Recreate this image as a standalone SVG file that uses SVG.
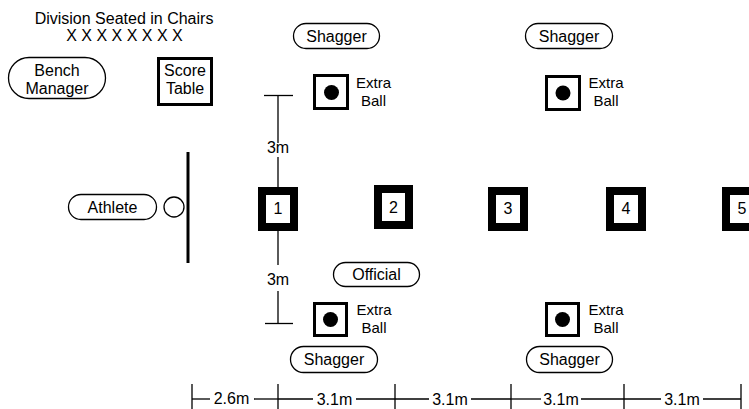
<svg xmlns="http://www.w3.org/2000/svg" width="749" height="409" viewBox="0 0 749 409">
<style>
text{font-family:"Liberation Sans",Arial,sans-serif;font-size:16px;fill:#000;text-anchor:middle}
.sm{font-size:15px}
.pill{fill:#fff;stroke:#000;stroke-width:1.3}
.cone{fill:#fff;stroke:#000;stroke-width:8}
.box{fill:#fff;stroke:#000;stroke-width:3}
.ln{stroke:#000;stroke-width:1.3;fill:none}
</style>
<rect width="749" height="409" fill="#fff"/>
<g id="division">
<text x="124" y="24">Division Seated in Chairs</text>
<text x="124.5" y="41">X X X X X X X X</text>
</g>
<g id="bench-manager">
<rect class="pill" x="8.5" y="57.5" width="97" height="41" rx="20.5"/>
<text x="57" y="76">Bench</text>
<text x="57" y="94">Manager</text>
</g>
<g id="score-table">
<rect class="box" x="158.5" y="58.5" width="53" height="46"/>
<text x="185" y="76">Score</text>
<text x="185" y="94">Table</text>
</g>
<g id="shagger-top-1">
<rect class="pill" x="293.5" y="23.5" width="86" height="25" rx="12.5"/>
<text x="336.5" y="42">Shagger</text>
</g>
<g id="shagger-top-2">
<rect class="pill" x="525.5" y="23.5" width="87" height="25" rx="12.5"/>
<text x="569" y="42">Shagger</text>
</g>
<g id="extra-ball-top-1">
<rect class="box" x="314.5" y="75.5" width="33" height="33"/>
<circle cx="331.5" cy="92.5" r="7.5"/>
<text class="sm" x="373.5" y="88">Extra</text>
<text class="sm" x="373.5" y="106">Ball</text>
</g>
<g id="extra-ball-top-2">
<rect class="box" x="546.5" y="76.5" width="33" height="33"/>
<circle cx="563" cy="93" r="7.5"/>
<text class="sm" x="606" y="88">Extra</text>
<text class="sm" x="606" y="106">Ball</text>
</g>
<g id="athlete">
<rect class="pill" x="68.5" y="194.5" width="88" height="25" rx="12.5"/>
<text x="112.5" y="213">Athlete</text>
<circle class="ln" cx="174" cy="207" r="10"/>
</g>
<g id="foul-line">
<line x1="188" y1="152" x2="188" y2="263" stroke="#000" stroke-width="3"/>
</g>
<g id="cone-1">
<rect class="cone" x="262" y="191" width="32" height="36"/>
<text x="278" y="214">1</text>
</g>
<g id="cone-2">
<rect class="cone" x="378" y="189" width="31" height="36"/>
<text x="393.5" y="213">2</text>
</g>
<g id="cone-3">
<rect class="cone" x="492" y="191" width="32" height="36"/>
<text x="508" y="214">3</text>
</g>
<g id="cone-4">
<rect class="cone" x="610" y="191" width="32" height="36"/>
<text x="626" y="214">4</text>
</g>
<g id="cone-5">
<rect class="cone" x="726" y="191" width="32" height="36"/>
<text x="742" y="214">5</text>
</g>
<g id="official">
<rect class="pill" x="333.5" y="262.5" width="86" height="24" rx="12"/>
<text x="376.5" y="280">Official</text>
</g>
<g id="extra-ball-bottom-1">
<rect class="box" x="314.5" y="303.5" width="32" height="32"/>
<circle cx="330.5" cy="319.5" r="7.5"/>
<text class="sm" x="374" y="315">Extra</text>
<text class="sm" x="374" y="333">Ball</text>
</g>
<g id="extra-ball-bottom-2">
<rect class="box" x="546.5" y="303.5" width="32" height="32"/>
<circle cx="562.5" cy="319.5" r="7.5"/>
<text class="sm" x="606" y="315">Extra</text>
<text class="sm" x="606" y="333">Ball</text>
</g>
<g id="shagger-bottom-1">
<rect class="pill" x="290.5" y="346.5" width="87" height="26" rx="13"/>
<text x="334" y="365">Shagger</text>
</g>
<g id="shagger-bottom-2">
<rect class="pill" x="526.5" y="346.5" width="86" height="26" rx="13"/>
<text x="569.5" y="365">Shagger</text>
</g>
<g id="connectors">
<line class="ln" x1="264" y1="95.5" x2="293" y2="95.5"/>
<line class="ln" x1="278" y1="95" x2="278" y2="143"/>
<line class="ln" x1="278" y1="157" x2="278" y2="187"/>
<text x="278" y="153">3m</text>
<line class="ln" x1="278" y1="231" x2="278" y2="265"/>
<line class="ln" x1="278" y1="291" x2="278" y2="323"/>
<line class="ln" x1="265" y1="323.5" x2="293" y2="323.5"/>
<text x="278" y="285">3m</text>
<g id="distance-scale">
<line class="ln" x1="192" y1="384" x2="192" y2="409"/>
<line class="ln" x1="278" y1="384" x2="278" y2="409"/>
<line class="ln" x1="395" y1="384" x2="395" y2="409"/>
<line class="ln" x1="511" y1="384" x2="511" y2="409"/>
<line class="ln" x1="624" y1="384" x2="624" y2="409"/>
<line class="ln" x1="741" y1="384" x2="741" y2="409"/>
<line class="ln" x1="192" y1="399" x2="210" y2="399"/>
<line class="ln" x1="254" y1="399" x2="278" y2="399"/>
<line class="ln" x1="278" y1="399" x2="313" y2="399"/>
<line class="ln" x1="356" y1="399" x2="395" y2="399"/>
<line class="ln" x1="395" y1="399" x2="429" y2="399"/>
<line class="ln" x1="471" y1="399" x2="511" y2="399"/>
<line class="ln" x1="511" y1="399" x2="541" y2="399"/>
<line class="ln" x1="581" y1="399" x2="624" y2="399"/>
<line class="ln" x1="624" y1="399" x2="661" y2="399"/>
<line class="ln" x1="703" y1="399" x2="741" y2="399"/>
<text x="231.5" y="404">2.6m</text>
<text x="334.5" y="405">3.1m</text>
<text x="450" y="405">3.1m</text>
<text x="561" y="405">3.1m</text>
<text x="682" y="405">3.1m</text>
</g>
</g>
</svg>
